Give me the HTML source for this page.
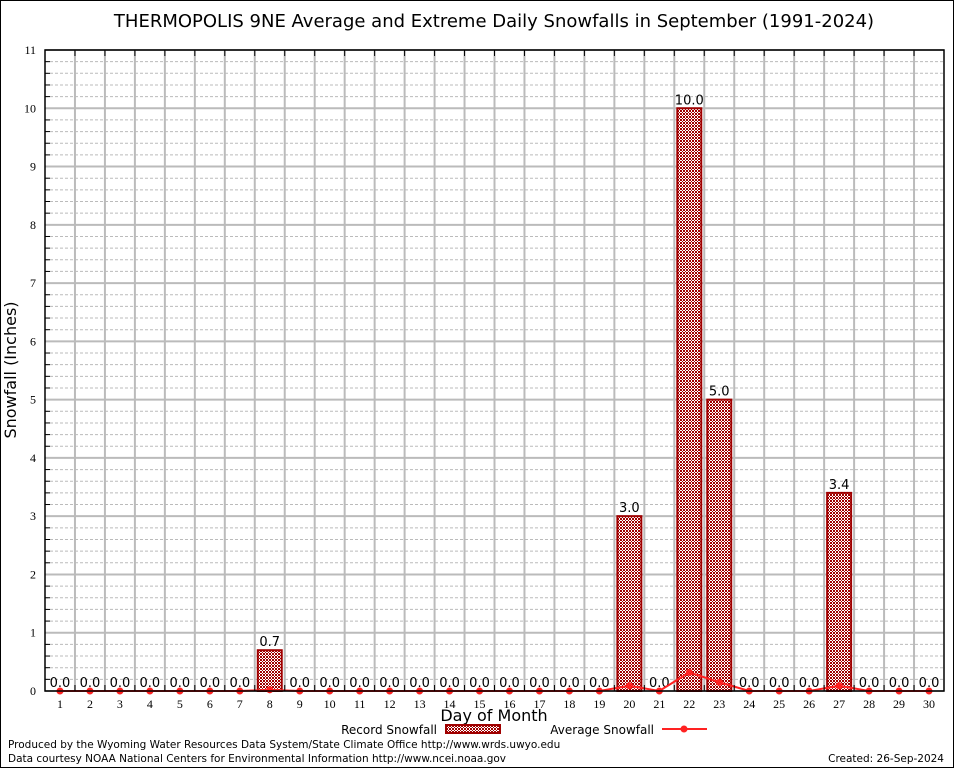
<!DOCTYPE html>
<html><head><meta charset="utf-8"><style>
body{margin:0;background:#fff}
svg{display:block;font-family:"DejaVu Sans","Liberation Sans",sans-serif}
</style></head><body>
<svg id="c" width="954" height="768">
<defs>
<pattern id="hatch" width="3" height="3" patternUnits="userSpaceOnUse">
<rect width="3" height="3" fill="#fff"/>
<rect width="1" height="1" fill="#a00000"/><rect x="2" y="0" width="1" height="1" fill="#a00000"/><rect x="1" y="1" width="1" height="1" fill="#a00000"/><rect x="0" y="2" width="1" height="1" fill="#a00000"/><rect x="2" y="2" width="1" height="1" fill="#a00000"/>
</pattern>
</defs>
<rect x="0.5" y="0.5" width="953" height="767" fill="#fff" stroke="#000"/>
<text x="494" y="27" font-size="18" text-anchor="middle">THERMOPOLIS 9NE Average and Extreme Daily Snowfalls in September (1991-2024)</text>
<g id="grid"></g>
<g id="bars"></g>
<g id="avg"></g>
<g id="axes"></g>
<text transform="translate(16,370) rotate(-90)" font-size="16" text-anchor="middle">Snowfall (Inches)</text>
<text x="494" y="721" font-size="16" text-anchor="middle">Day of Month</text>
<g>
<text x="437" y="734" font-size="12" text-anchor="end">Record Snowfall</text>
<rect x="446" y="725" width="54" height="8" fill="url(#hatch)" stroke="#a00000" stroke-width="2"/>
<text x="654" y="734" font-size="12" text-anchor="end">Average Snowfall</text>
<line x1="662" y1="729" x2="707" y2="729" stroke="#f22" stroke-width="2"/>
<circle cx="684" cy="729" r="3.5" fill="#f22"/>
</g>
<text x="8" y="748" font-size="10.5">Produced by the Wyoming Water Resources Data System/State Climate Office http://www.wrds.uwyo.edu</text>
<text x="8" y="762" font-size="10.5">Data courtesy NOAA National Centers for Environmental Information http://www.ncei.noaa.gov</text>
<text x="944" y="762" font-size="10.5" text-anchor="end">Created: 26-Sep-2024</text>
</svg>
<script>
const days=[1,2,3,4,5,6,7,8,9,10,11,12,13,14,15,16,17,18,19,20,21,22,23,24,25,26,27,28,29,30];
const recordSnow=[0,0,0,0,0,0,0,0.7,0,0,0,0,0,0,0,0,0,0,0,3.0,0,10.0,5.0,0,0,0,3.4,0,0,0];
const avgSnow=[0,0,0,0,0,0,0,0.02,0,0,0,0,0,0,0,0,0,0,0,0.09,0,0.32,0.15,0,0,0,0.09,0,0,0];
const yTicks=[0,1,2,3,4,5,6,7,8,9,10,11];
const L=45,R=944,T=50,B=691,yMax=11;
const step=(R-L)/30;
const X=d=>L+(d-0.5)*step;
const Y=v=>B-(v/yMax)*(B-T);
const NS="http://www.w3.org/2000/svg";
function mk(p,tag,a){const e=document.createElementNS(NS,tag);for(const k in a)e.setAttribute(k,a[k]);p.appendChild(e);return e;}
const grid=document.getElementById('grid'),bars=document.getElementById('bars'),avg=document.getElementById('avg'),axes=document.getElementById('axes');
for(let v=0.2;v<yMax;v+=0.2){if(Math.abs(v-Math.round(v))<1e-6)continue;const y=Y(v);
const l=mk(grid,'line',{x1:L,x2:R,y1:y,y2:y,stroke:'#bbb','stroke-width':1,'stroke-dasharray':'3,2'});


const t=mk(grid,'line',{x1:L,x2:L+5,y1:y,y2:y,stroke:'#000'});

}
yTicks.forEach(v=>{const y=Y(v);
const l=mk(grid,'line',{x1:L,x2:R,y1:y,y2:y,stroke:'#bbb','stroke-width':2});


const t=mk(axes,'text',{x:36,y:y+4,'font-size':12,'text-anchor':'end','font-family':'Liberation Serif,serif'});t.textContent=v;

});
for(let i=1;i<30;i++){const x=L+i*step;
const l=mk(grid,'line',{x1:x,x2:x,y1:T,y2:B,stroke:'#bbb','stroke-width':2});


const t1=mk(axes,'line',{x1:x,x2:x,y1:T,y2:T+6,stroke:'#000'});


const t2=mk(axes,'line',{x1:x,x2:x,y1:B,y2:B-6,stroke:'#000'});

}
days.forEach((d,i)=>{const v=recordSnow[i],x=X(d),w=step*0.8;
if(v>0){const r=mk(bars,'rect',{x:x-w/2,y:Y(v),width:w,height:B-Y(v),fill:'url(#hatch)',stroke:'#a00000','stroke-width':2});

}
const t=mk(bars,'text',{x:x,y:Y(v)-4,'font-size':13,'text-anchor':'middle'});t.textContent=v.toFixed(1);


const xl=mk(axes,'text',{x:x,y:B+17,'font-size':12,'text-anchor':'middle','font-family':'Liberation Serif,serif'});xl.textContent=d;

});
const pl=mk(avg,'polyline',{points:days.map((d,i)=>X(d)+','+Y(avgSnow[i])).join(' '),fill:'none',stroke:'#f22','stroke-width':2});


days.forEach((d,i)=>{const c=mk(avg,'circle',{cx:X(d),cy:Y(avgSnow[i]),r:3.5,fill:'#f22'});

});
const fr=mk(axes,'rect',{x:L,y:T,width:R-L,height:B-T,fill:'none',stroke:'#000','stroke-width':1.5});


</script>
</body></html>
